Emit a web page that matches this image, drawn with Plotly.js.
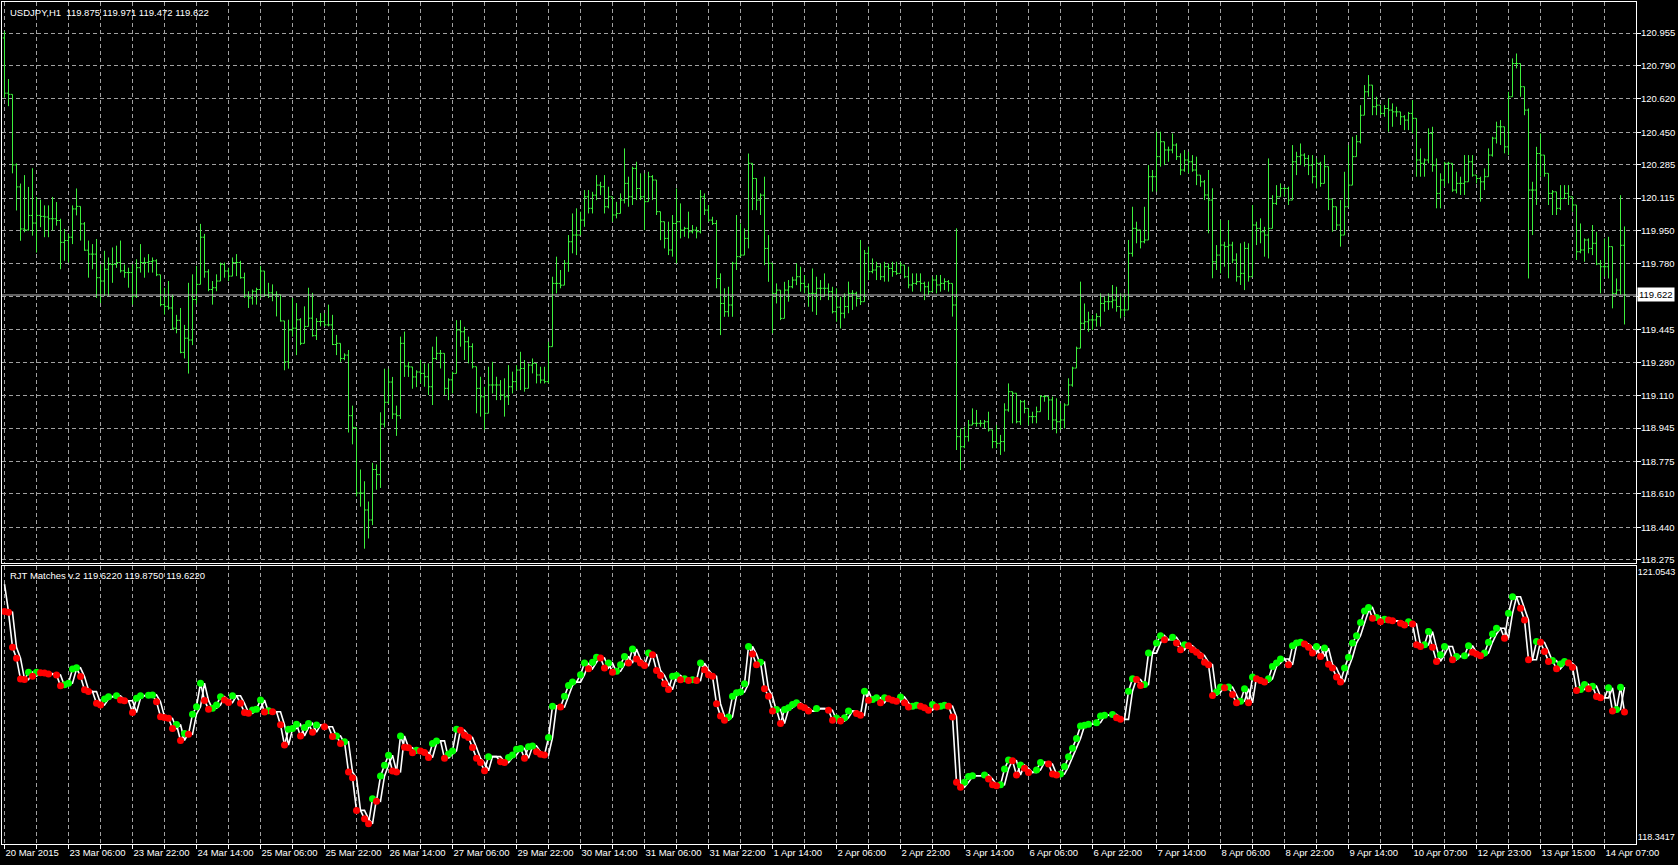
<!DOCTYPE html>
<html><head><meta charset="utf-8">
<script src="https://cdn.plot.ly/plotly-3.0.1.min.js"></script>
<style>html,body{margin:0;padding:0;background:#000;overflow:hidden}</style>
</head><body><div id="chart" style="width:1678px;height:865px"></div>
<script>
const symbol = "USDJPY,H1";
const indicatorName = "RJT Matches v.2";
const timeLabels = ["20 Mar 2015","23 Mar 06:00","23 Mar 22:00","24 Mar 14:00","25 Mar 06:00","25 Mar 22:00","26 Mar 14:00","27 Mar 06:00","29 Mar 22:00","30 Mar 14:00","31 Mar 06:00","31 Mar 22:00","1 Apr 14:00","2 Apr 06:00","2 Apr 22:00","3 Apr 14:00","6 Apr 06:00","6 Apr 22:00","7 Apr 14:00","8 Apr 06:00","8 Apr 22:00","9 Apr 14:00","10 Apr 07:00","12 Apr 23:00","13 Apr 15:00","14 Apr 07:00"];
const priceTicks = [120.955,120.790,120.620,120.450,120.285,120.115,119.950,119.780,119.615,119.445,119.280,119.110,118.945,118.775,118.610,118.440,118.275];
const indicatorTicks = [121.0543,118.3417];

const open = [
120.930,120.649,120.643,120.284,120.172,119.958,119.953,120.027,119.988,120.027,
120.022,120.019,120.010,120.010,120.001,119.890,119.899,119.916,120.060,120.073,
119.984,119.850,119.830,119.830,119.710,119.693,119.753,119.778,119.778,119.787,
119.745,119.736,119.736,119.616,119.761,119.787,119.787,119.792,119.796,119.725,
119.573,119.564,119.556,119.453,119.493,119.330,119.402,119.393,119.599,119.676,
119.916,119.740,119.650,119.659,119.693,119.778,119.744,119.718,119.787,119.787,
119.710,119.616,119.607,119.641,119.650,119.744,119.620,119.633,119.624,119.624,
119.490,119.282,119.444,119.453,119.496,119.376,119.462,119.504,119.415,119.487,
119.487,119.470,119.470,119.370,119.376,119.299,119.316,119.008,118.948,118.614,
118.614,118.528,118.477,118.734,118.708,118.965,119.076,119.179,119.016,119.008,
119.376,119.260,119.256,119.205,119.230,119.223,119.206,119.155,119.299,119.325,
119.325,119.147,119.190,119.223,119.444,119.435,119.384,119.359,119.257,119.147,
119.104,119.020,119.164,119.164,119.164,119.113,119.104,119.155,119.181,119.240,
119.248,119.147,119.265,119.274,119.215,119.189,119.181,119.359,119.681,119.681,
119.672,119.783,119.893,119.927,119.927,120.003,120.122,120.063,120.130,120.181,
120.173,120.071,120.122,120.029,120.037,120.105,120.190,120.122,120.266,120.164,
120.122,120.097,120.224,120.207,120.046,119.995,119.910,119.851,119.986,119.995,
119.952,119.961,119.944,119.952,119.944,120.122,120.054,120.003,119.986,119.706,
119.579,119.537,119.571,119.783,119.817,119.825,119.910,120.292,120.215,120.105,
120.130,119.859,119.783,119.630,119.647,119.503,119.647,119.664,119.698,119.715,
119.681,119.664,119.630,119.630,119.656,119.656,119.656,119.639,119.537,119.560,
119.529,119.563,119.630,119.630,119.605,119.588,119.834,119.741,119.749,119.766,
119.715,119.766,119.757,119.741,119.732,119.774,119.715,119.673,119.681,119.690,
119.681,119.664,119.639,119.698,119.673,119.681,119.690,119.681,119.571,118.901,
118.850,118.901,118.960,118.969,118.969,118.969,118.977,118.935,118.876,118.867,
118.876,119.037,119.130,119.122,118.977,119.079,119.045,119.003,119.003,119.028,
119.105,119.105,119.088,118.986,118.977,118.986,119.062,119.164,119.250,119.351,
119.478,119.486,119.495,119.495,119.512,119.579,119.588,119.588,119.596,119.563,
119.546,119.546,119.834,119.961,119.953,119.893,119.902,120.224,120.224,120.326,
120.402,120.360,120.360,120.385,120.326,120.258,120.309,120.300,120.258,120.232,
120.198,120.131,120.105,119.791,119.825,119.876,119.868,119.876,119.800,119.715,
119.732,119.859,119.715,119.978,119.961,119.944,119.927,119.961,120.088,120.122,
120.164,120.164,120.105,120.300,120.326,120.334,120.317,120.283,120.224,120.292,
120.190,120.275,120.110,120.071,119.978,119.927,120.071,120.181,120.326,120.402,
120.537,120.656,120.690,120.580,120.588,120.546,120.571,120.563,120.554,120.554,
120.529,120.512,120.546,120.521,120.309,120.292,120.309,120.444,120.283,120.139,
120.207,120.292,120.292,120.156,120.190,120.190,120.198,120.300,120.232,120.215,
120.198,120.224,120.334,120.420,120.478,120.478,120.376,120.631,120.800,120.800,
120.682,120.563,120.156,120.156,120.342,120.334,120.241,120.139,120.147,120.063,
120.113,120.139,120.122,120.080,119.842,119.851,119.902,119.859,119.885,119.780,
119.766,119.766,119.868,119.630,119.647,119.875];

const high = [
120.964,120.721,120.643,120.292,120.189,120.232,120.172,120.267,120.121,120.107,
120.078,120.078,120.121,120.095,120.010,119.958,119.933,120.078,120.164,120.073,
119.993,119.899,119.881,119.907,119.778,119.847,119.813,119.864,119.873,119.899,
119.778,119.761,119.778,119.804,119.881,119.813,119.830,119.813,119.804,119.725,
119.659,119.693,119.624,119.521,119.556,119.470,119.684,119.727,119.770,119.984,
119.933,119.753,119.693,119.727,119.787,119.787,119.761,119.813,119.830,119.796,
119.736,119.641,119.650,119.659,119.770,119.744,119.684,119.676,119.641,119.624,
119.490,119.496,119.607,119.581,119.504,119.564,119.659,119.633,119.504,119.530,
119.530,119.573,119.521,119.419,119.376,119.325,119.342,119.059,118.948,118.734,
118.674,118.571,118.768,118.760,119.025,119.247,119.247,119.205,119.059,119.410,
119.436,119.282,119.256,119.239,119.291,119.274,119.274,119.359,119.410,119.342,
119.325,119.198,119.232,119.494,119.494,119.460,119.410,119.376,119.257,119.206,
119.155,119.257,119.282,119.206,119.189,119.198,119.265,119.232,119.265,119.333,
119.291,119.274,119.299,119.274,119.257,119.257,119.384,119.715,119.817,119.749,
119.800,119.927,120.037,120.063,120.046,120.156,120.156,120.147,120.232,120.198,
120.232,120.173,120.122,120.096,120.139,120.368,120.224,120.275,120.300,120.241,
120.241,120.249,120.232,120.207,120.046,119.995,119.995,120.029,120.164,120.088,
119.969,120.046,119.978,119.969,120.156,120.139,120.080,120.020,120.003,119.732,
119.656,119.664,119.791,120.029,119.986,119.961,120.342,120.292,120.215,120.139,
120.224,119.927,119.783,119.681,119.647,119.689,119.698,119.715,119.783,119.766,
119.723,119.681,119.757,119.715,119.698,119.732,119.681,119.664,119.656,119.613,
119.630,119.690,119.647,119.639,119.902,119.851,119.868,119.808,119.791,119.783,
119.791,119.783,119.791,119.791,119.791,119.774,119.766,119.732,119.732,119.732,
119.690,119.690,119.715,119.724,119.724,119.707,119.698,119.681,119.961,118.943,
118.952,118.986,119.045,119.037,118.986,118.986,119.028,118.935,118.960,118.910,
119.071,119.172,119.130,119.122,119.088,119.088,119.045,119.028,119.054,119.113,
119.113,119.105,119.105,119.096,119.071,119.071,119.198,119.257,119.359,119.690,
119.579,119.537,119.520,119.529,119.630,119.613,119.630,119.673,119.664,119.630,
119.630,119.902,120.071,119.995,119.953,120.071,120.283,120.258,120.453,120.453,
120.402,120.377,120.444,120.394,120.343,120.360,120.351,120.334,120.326,120.232,
120.207,120.258,120.165,119.876,120.003,119.893,120.003,119.893,119.834,119.885,
119.893,119.885,120.080,119.995,120.012,119.969,120.317,120.130,120.181,120.190,
120.173,120.173,120.385,120.351,120.393,120.343,120.334,120.334,120.317,120.300,
120.334,120.275,120.110,120.071,120.105,120.249,120.385,120.427,120.436,120.588,
120.690,120.741,120.690,120.631,120.588,120.588,120.622,120.597,120.580,120.554,
120.537,120.554,120.614,120.521,120.368,120.317,120.470,120.478,120.317,120.241,
120.300,120.300,120.292,120.249,120.224,120.334,120.334,120.334,120.232,120.224,
120.266,120.368,120.427,120.504,120.512,120.478,120.656,120.826,120.851,120.800,
120.682,120.571,120.198,120.376,120.444,120.334,120.241,120.156,120.147,120.181,
120.181,120.181,120.122,120.080,119.986,119.910,119.910,119.978,119.944,119.800,
119.910,119.918,119.868,119.706,120.130,119.971];

const low = [
120.626,120.583,120.241,120.052,119.898,119.941,119.950,119.924,119.838,119.967,
119.916,119.916,119.950,119.975,119.753,119.796,119.787,119.881,120.027,119.899,
119.847,119.710,119.753,119.607,119.581,119.616,119.616,119.684,119.760,119.736,
119.710,119.659,119.573,119.607,119.736,119.710,119.736,119.736,119.718,119.564,
119.522,119.547,119.444,119.427,119.325,119.299,119.222,119.367,119.573,119.676,
119.710,119.641,119.573,119.641,119.693,119.710,119.693,119.718,119.718,119.705,
119.607,119.556,119.573,119.573,119.607,119.616,119.607,119.590,119.513,119.487,
119.239,119.247,119.410,119.316,119.367,119.376,119.462,119.410,119.393,119.462,
119.462,119.462,119.367,119.316,119.282,119.290,118.922,118.862,118.597,118.545,
118.331,118.383,118.451,118.631,118.640,118.948,119.068,118.991,118.905,118.991,
119.205,119.205,119.145,119.153,119.172,119.155,119.113,119.062,119.291,119.248,
119.113,119.087,119.121,119.223,119.359,119.291,119.274,119.248,119.020,119.003,
118.935,119.020,119.121,119.087,119.087,119.003,119.062,119.121,119.138,119.138,
119.130,119.147,119.223,119.172,119.172,119.172,119.172,119.359,119.630,119.656,
119.672,119.740,119.834,119.825,119.927,119.969,120.037,120.037,120.105,120.130,
120.037,120.063,119.995,120.012,120.037,120.088,120.071,120.080,120.105,120.105,
119.952,120.097,120.105,120.029,119.901,119.859,119.825,119.817,119.783,119.910,
119.918,119.910,119.935,119.910,119.935,120.029,119.995,119.978,119.656,119.418,
119.511,119.511,119.511,119.749,119.817,119.825,119.859,120.054,120.054,120.029,
119.774,119.689,119.427,119.579,119.494,119.503,119.588,119.656,119.672,119.639,
119.630,119.562,119.537,119.520,119.596,119.613,119.596,119.528,119.486,119.452,
119.503,119.529,119.546,119.563,119.571,119.588,119.698,119.732,119.698,119.698,
119.690,119.690,119.715,119.724,119.732,119.707,119.656,119.639,119.673,119.639,
119.596,119.622,119.639,119.630,119.639,119.647,119.639,119.512,118.833,118.731,
118.842,118.876,118.960,118.952,118.952,118.943,118.927,118.842,118.842,118.808,
118.825,119.028,118.969,118.969,118.960,119.020,118.960,118.969,118.969,119.028,
119.079,118.986,118.935,118.918,118.935,118.943,119.062,119.155,119.250,119.351,
119.444,119.435,119.444,119.461,119.461,119.537,119.546,119.554,119.537,119.503,
119.512,119.546,119.817,119.885,119.859,119.885,119.902,120.148,120.148,120.275,
120.283,120.300,120.343,120.309,120.232,120.249,120.241,120.249,120.181,120.173,
120.105,119.936,119.707,119.749,119.732,119.766,119.707,119.783,119.690,119.673,
119.647,119.690,119.715,119.876,119.885,119.817,119.808,119.961,120.080,120.122,
120.122,120.080,120.105,120.232,120.283,120.275,120.232,120.190,120.164,120.173,
120.190,120.054,119.944,119.952,119.868,119.927,120.071,120.181,120.326,120.393,
120.537,120.631,120.537,120.537,120.537,120.529,120.453,120.478,120.529,120.487,
120.461,120.461,120.444,120.224,120.224,120.224,120.292,120.249,120.063,120.063,
120.173,120.190,120.147,120.139,120.131,120.131,120.198,120.224,120.190,120.097,
120.156,120.224,120.326,120.393,120.385,120.343,120.334,120.631,120.775,120.631,
120.537,119.706,119.927,120.080,120.224,120.224,120.080,120.029,120.029,120.054,
120.113,120.080,120.046,119.800,119.834,119.791,119.834,119.825,119.774,119.630,
119.715,119.706,119.554,119.622,119.622,119.472];

const close = [
120.649,120.643,120.284,120.172,119.958,119.953,120.027,119.988,120.027,120.022,
120.019,120.010,120.010,120.001,119.890,119.899,119.916,120.060,120.073,119.984,
119.850,119.830,119.830,119.710,119.693,119.753,119.778,119.778,119.787,119.745,
119.736,119.736,119.616,119.761,119.787,119.787,119.792,119.796,119.725,119.573,
119.564,119.556,119.453,119.493,119.330,119.402,119.393,119.599,119.676,119.916,
119.740,119.650,119.659,119.693,119.778,119.744,119.718,119.787,119.787,119.710,
119.616,119.607,119.641,119.650,119.744,119.620,119.633,119.624,119.624,119.490,
119.282,119.444,119.453,119.496,119.376,119.462,119.504,119.415,119.487,119.487,
119.470,119.470,119.370,119.376,119.299,119.316,119.008,118.948,118.614,118.614,
118.528,118.477,118.734,118.708,118.965,119.076,119.179,119.016,119.008,119.376,
119.260,119.256,119.205,119.230,119.223,119.206,119.155,119.299,119.325,119.325,
119.147,119.190,119.223,119.444,119.435,119.384,119.359,119.257,119.147,119.104,
119.020,119.164,119.164,119.164,119.113,119.104,119.155,119.181,119.240,119.248,
119.147,119.265,119.274,119.215,119.189,119.181,119.359,119.681,119.681,119.672,
119.783,119.893,119.927,119.927,120.003,120.122,120.063,120.130,120.181,120.173,
120.071,120.122,120.029,120.037,120.105,120.190,120.122,120.266,120.164,120.122,
120.097,120.224,120.207,120.046,119.995,119.910,119.851,119.986,119.995,119.952,
119.961,119.944,119.952,119.944,120.122,120.054,120.003,119.986,119.706,119.579,
119.537,119.571,119.783,119.817,119.825,119.910,120.292,120.215,120.105,120.130,
119.859,119.783,119.630,119.647,119.503,119.647,119.664,119.698,119.715,119.681,
119.664,119.630,119.630,119.656,119.656,119.656,119.639,119.537,119.560,119.529,
119.563,119.630,119.630,119.605,119.588,119.834,119.741,119.749,119.766,119.715,
119.766,119.757,119.741,119.732,119.774,119.715,119.673,119.681,119.690,119.681,
119.664,119.639,119.698,119.673,119.681,119.690,119.681,119.571,118.901,118.850,
118.901,118.960,118.969,118.969,118.969,118.977,118.935,118.876,118.867,118.876,
119.037,119.130,119.122,118.977,119.079,119.045,119.003,119.003,119.028,119.105,
119.105,119.088,118.986,118.977,118.986,119.062,119.164,119.250,119.351,119.478,
119.486,119.495,119.495,119.512,119.579,119.588,119.588,119.596,119.563,119.546,
119.546,119.834,119.961,119.953,119.893,119.902,120.224,120.224,120.326,120.402,
120.360,120.360,120.385,120.326,120.258,120.309,120.300,120.258,120.232,120.198,
120.131,120.105,119.791,119.825,119.876,119.868,119.876,119.800,119.715,119.732,
119.859,119.715,119.978,119.961,119.944,119.927,119.961,120.088,120.122,120.164,
120.164,120.105,120.300,120.326,120.334,120.317,120.283,120.224,120.292,120.190,
120.275,120.110,120.071,119.978,119.927,120.071,120.181,120.326,120.402,120.537,
120.656,120.690,120.580,120.588,120.546,120.571,120.563,120.554,120.554,120.529,
120.512,120.546,120.521,120.309,120.292,120.309,120.444,120.283,120.139,120.207,
120.292,120.292,120.156,120.190,120.190,120.198,120.300,120.232,120.215,120.198,
120.224,120.334,120.420,120.478,120.478,120.376,120.631,120.800,120.800,120.682,
120.563,120.156,120.156,120.342,120.334,120.241,120.139,120.147,120.063,120.113,
120.139,120.122,120.080,119.842,119.851,119.902,119.859,119.885,119.780,119.766,
119.766,119.868,119.630,119.647,119.875,119.622];

const GREEN = '#3cf03c';
const GRID = '#a0a0a0';
const FONT = 'Liberation Sans, Arial, sans-serif';

const idx = close.map((_, i) => i);
const gridIdx = [];
const gridText = [];
for (let i = 0; i <= 400; i += 8) { gridIdx.push(i); gridText.push(i % 16 === 0 ? timeLabels[i / 16] : ''); }

const upX = [], upY = [], dnX = [], dnY = [];
for (let i = 0; i < close.length; i++) {
  if (close[i] > open[i]) { upX.push(i); upY.push(close[i]); }
  else if (close[i] < open[i]) { dnX.push(i); dnY.push(close[i]); }
}
const last = close.length - 1;
const lastPrice = close[last];

const traces = [
  {type:'ohlc', x: idx, open, high, low, close, xaxis:'x', yaxis:'y',
   increasing:{line:{color:GREEN, width:1}}, decreasing:{line:{color:GREEN, width:1}},
   tickwidth:0.45, hoverinfo:'skip'},
  {type:'scatter', mode:'lines', x: idx, y: open, xaxis:'x2', yaxis:'y2', line:{color:'#ffffff', width:1.6}, hoverinfo:'skip'},
  {type:'scatter', mode:'lines', x: idx, y: close, xaxis:'x2', yaxis:'y2', line:{color:'#ffffff', width:1.6}, hoverinfo:'skip'},
  {type:'scatter', mode:'markers', x: upX, y: upY, xaxis:'x2', yaxis:'y2', marker:{color:'#00ff00', size:7}, hoverinfo:'skip'},
  {type:'scatter', mode:'markers', x: dnX, y: dnY, xaxis:'x2', yaxis:'y2', marker:{color:'#ff0000', size:7}, hoverinfo:'skip'}
];

const xr = [-0.625, 407.875];
const layout = {
  width:1678, height:865,
  paper_bgcolor:'#000', plot_bgcolor:'#000',
  margin:{l:2, r:42, t:2, b:21},
  showlegend:false,
  font:{family:FONT, size:10, color:'#ffffff'},
  xaxis:{domain:[0,1], anchor:'y', range:xr, rangeslider:{visible:false},
    tickvals:gridIdx, showticklabels:false, ticks:'', showgrid:true, gridcolor:GRID, griddash:'4px,3px', gridwidth:1,
    showline:true, linecolor:'#ffffff', linewidth:1, mirror:true, zeroline:false, fixedrange:true},
  yaxis:{domain:[0.3337,1], anchor:'x', range:[118.258,121.113], side:'right',
    tickvals:priceTicks, ticktext:priceTicks.map(v => Math.abs(v - lastPrice) < 0.03 ? '' : v.toFixed(3)),
    tickfont:{size:9.5}, ticklabelstandoff:-2,
    ticks:'outside', ticklen:4, tickcolor:'#ffffff', showgrid:true, gridcolor:GRID, griddash:'4px,3px', gridwidth:1,
    showline:true, linecolor:'#ffffff', linewidth:1, mirror:true, zeroline:false, fixedrange:true},
  xaxis2:{domain:[0,1], anchor:'y2', range:xr,
    tickvals:gridIdx, ticktext:gridText, ticklabelposition:'outside right', tickangle:0,
    tickfont:{size:9.5},
    ticks:'outside', ticklen:4, tickcolor:'#ffffff', showgrid:true, gridcolor:GRID, griddash:'4px,3px', gridwidth:1,
    showline:true, linecolor:'#ffffff', linewidth:1, mirror:true, zeroline:false, fixedrange:true},
  yaxis2:{domain:[0,0.3302], anchor:'x2', range:[118.270,121.1157], side:'right',
    tickvals:indicatorTicks, ticktext:indicatorTicks.map(v => v.toFixed(4)),
    tickfont:{size:9}, ticklabelstandoff:-1,
    ticks:'', showgrid:false, showline:true, linecolor:'#ffffff', linewidth:1, mirror:true, zeroline:false, fixedrange:true},
  shapes:[
    {type:'line', xref:'x', yref:'y', x0:xr[0], x1:xr[1], y0:lastPrice, y1:lastPrice, line:{color:'#c0c0c0', width:1}}
  ],
  annotations:[
    {xref:'paper', yref:'y', x:1, y:lastPrice, xanchor:'left', yanchor:'middle', xshift:1,
     text:lastPrice.toFixed(3), showarrow:false, bgcolor:'#ffffff', borderpad:1, font:{color:'#000000', size:9.5, family:FONT}},
    {xref:'paper', yref:'paper', x:0, y:1, xanchor:'left', yanchor:'top', xshift:6, yshift:-3, showarrow:false,
     text: symbol + '\u00a0\u00a0' + [open[last], high[last], low[last], close[last]].map(v => v.toFixed(3)).join(' '),
     font:{color:'#ffffff', size:9.5, family:FONT}},
    {xref:'paper', yref:'y2 domain', x:0, y:1, xanchor:'left', yanchor:'top', xshift:6, yshift:-2, showarrow:false,
     text: indicatorName + ' ' + [close[last], open[last], close[last]].map(v => v.toFixed(4)).join(' '),
     font:{color:'#ffffff', size:9.5, family:FONT}}
  ]
};

Plotly.newPlot('chart', traces, layout, {staticPlot:true, displayModeBar:false});
</script>
</body></html>
